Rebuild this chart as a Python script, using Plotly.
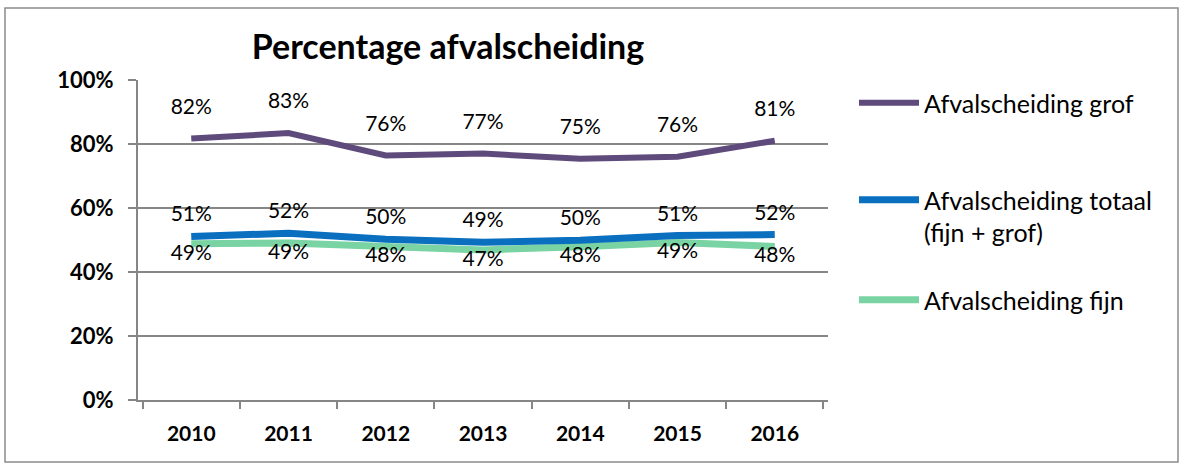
import plotly.graph_objects as go

years = ["2010", "2011", "2012", "2013", "2014", "2015", "2016"]
grof = [81.7, 83.4, 76.4, 77.0, 75.4, 76.0, 81.0]
grof_labels = ["82%", "83%", "76%", "77%", "75%", "76%", "81%"]
totaal = [51.1, 52.1, 50.2, 49.3, 49.9, 51.4, 51.7]
totaal_labels = ["51%", "52%", "50%", "49%", "50%", "51%", "52%"]
fijn = [48.8, 49.1, 48.0, 46.9, 47.9, 49.2, 48.0]
fijn_labels = ["49%", "49%", "48%", "47%", "48%", "49%", "48%"]

y_ticks = [0, 20, 40, 60, 80, 100]
y_tick_text = ["0%", "20%", "40%", "60%", "80%", "100%"]

FONT = "Lato"
label_font = dict(family=FONT, size=21, color="#000000")
legend_font = dict(family=FONT, size=25, color="#000000")

L, R, T, B = 138, 363, 80, 69
W, H = 1191, 469
pw, ph = W - L - R, H - T - B


def py(pix):
    return (H - B - pix) / ph


def px(pix):
    return (pix - L) / pw


clear = "rgba(0,0,0,0)"

fig = go.Figure()
fig.add_trace(go.Scatter(
    x=years, y=grof, mode="lines+markers+text", name="Afvalscheiding grof",
    text=grof_labels, textposition="top center", textfont=label_font,
    marker=dict(size=30, color=clear), line=dict(color="#5f4a7c", width=6),
    legend="legend", cliponaxis=False, hoverinfo="skip"))
fig.add_trace(go.Scatter(
    x=years, y=fijn, mode="lines+text", name="Afvalscheiding fijn",
    text=fijn_labels, textposition="bottom center", textfont=label_font,
    line=dict(color="#7ad3a3", width=7), legend="legend3", cliponaxis=False, hoverinfo="skip"))
fig.add_trace(go.Scatter(
    x=years, y=totaal, mode="lines+markers+text", name="Afvalscheiding totaal<br>(fijn + grof)",
    text=totaal_labels, textposition="top center", textfont=label_font,
    marker=dict(size=14, color=clear), line=dict(color="#0a6fbf", width=7),
    legend="legend2", cliponaxis=False, hoverinfo="skip"))

leg_common = dict(xanchor="left", font=legend_font, bgcolor=clear,
                  itemwidth=60, valign="top", itemclick=False, itemdoubleclick=False)

fig.update_layout(
    width=W, height=H,
    margin=dict(l=L, r=R, t=T, b=B, autoexpand=False),
    paper_bgcolor="white", plot_bgcolor="white",
    font=dict(family=FONT, color="#000000"),
    hovermode=False,
    title=dict(text="<b>Percentage afvalscheiding</b>", font=dict(family=FONT, size=34, color="#000"),
               x=448 / W, xanchor="center", y=1 - 47 / H, yanchor="middle",
               xref="container", yref="container"),
    showlegend=True,
    legend=dict(x=px(854), y=py(103), yanchor="middle", **leg_common),
    legend2=dict(x=px(854), y=py(216), yanchor="middle", **leg_common),
    legend3=dict(x=px(854), y=py(300), yanchor="middle", **leg_common),
    shapes=[dict(type="rect", xref="paper", yref="paper",
                 x0=px(5), x1=px(1178), y0=py(462), y1=py(8),
                 line=dict(color="#8c8c8c", width=1.5), fillcolor=clear, layer="below")],
)
fig.update_xaxes(
    type="category", showgrid=False, showline=True, linecolor="#868686", linewidth=2,
    ticks="outside", tickson="boundaries", ticklen=7, tickwidth=2, tickcolor="#868686",
    tickfont=dict(family=FONT, size=21, color="#000", weight="bold"), ticklabelstandoff=14,
    fixedrange=True)
fig.update_yaxes(
    range=[0, 100], tickvals=y_ticks, ticktext=y_tick_text,
    showgrid=True, gridcolor="#868686", gridwidth=2,
    showline=True, linecolor="#868686", linewidth=2,
    ticks="outside", ticklen=8, tickwidth=2, tickcolor="#868686",
    tickfont=dict(family=FONT, size=22, color="#000", weight="bold"), ticklabelstandoff=10,
    zeroline=False, fixedrange=True)

fig.write_html("out.html", config={"displayModeBar": False},
               post_script="document.body.style.margin='0';")
